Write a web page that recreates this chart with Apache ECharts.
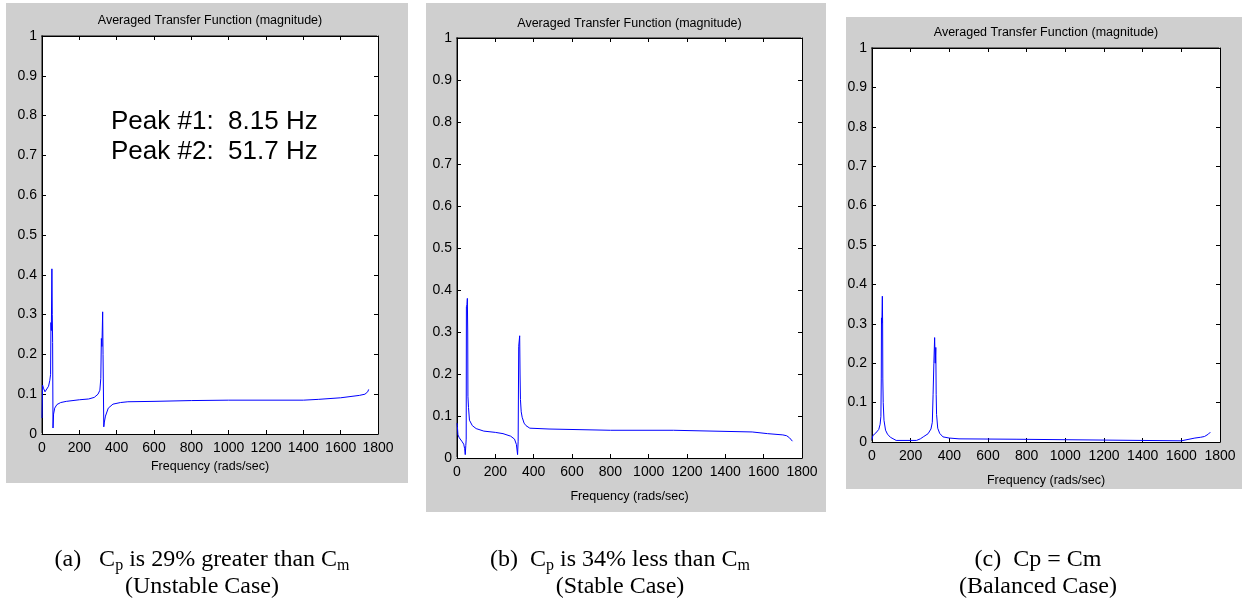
<!DOCTYPE html>
<html>
<head>
<meta charset="utf-8">
<title>Averaged Transfer Function</title>
<script src="https://cdn.jsdelivr.net/npm/echarts@6/dist/echarts.min.js"></script>
<style>html,body{margin:0;padding:0;background:#fff;}</style>
</head>
<body>
<div id="main" style="width:1243px;height:600px;"></div>
<script>
// values: frequency (rads/sec) and magnitude
var freqA = [0, 3, 8, 16, 25, 35, 42, 46, 48, 50, 53, 55, 57, 59, 62, 68, 80, 100, 130, 200, 250, 280, 300, 310, 315, 318, 321, 325, 327, 329, 331, 334, 340, 355, 380, 420, 460, 600, 800, 1000, 1200, 1400, 1480, 1600, 1700, 1730, 1745, 1750];
var magA  = [0.04, 0.123, 0.115, 0.106, 0.11, 0.12, 0.135, 0.15, 0.28, 0.26, 0.415, 0.3, 0.23, 0.015, 0.05, 0.065, 0.074, 0.079, 0.082, 0.086, 0.088, 0.092, 0.1, 0.11, 0.14, 0.24, 0.22, 0.307, 0.2, 0.2, 0.018, 0.03, 0.045, 0.065, 0.075, 0.079, 0.081, 0.082, 0.084, 0.085, 0.085, 0.085, 0.087, 0.091, 0.097, 0.1, 0.106, 0.112];

var freqB = [0, 2, 5, 12, 25, 35, 40, 43, 46, 48, 49, 52, 54, 56, 57, 60, 65, 80, 100, 140, 200, 240, 280, 300, 310, 316, 319, 322, 325, 327, 329, 331, 335, 340, 350, 360, 380, 480, 490, 800, 1130, 1140, 1540, 1550, 1620, 1630, 1700, 1720, 1735, 1750];
var magB  = [0.083, 0.075, 0.055, 0.048, 0.04, 0.033, 0.022, 0.008, 0.03, 0.045, 0.36, 0.365, 0.38, 0.3, 0.147, 0.12, 0.09, 0.077, 0.07, 0.064, 0.061, 0.058, 0.052, 0.045, 0.032, 0.008, 0.04, 0.266, 0.27, 0.291, 0.2, 0.139, 0.11, 0.097, 0.083, 0.077, 0.071, 0.069, 0.066, 0.066, 0.066, 0.063, 0.062, 0.059, 0.058, 0.056, 0.055, 0.053, 0.048, 0.04];

var freqC = [0, 4, 20, 35, 42, 46, 48, 49, 51, 53.5, 55, 56, 58, 62, 70, 80, 95, 125, 230, 250, 265, 290, 305, 312, 316, 320, 324, 327, 330, 332, 334, 340, 350, 367, 400, 450, 745, 750, 1600, 1610, 1670, 1700, 1720, 1740, 1750];
var magC  = [0.006, 0.016, 0.023, 0.032, 0.045, 0.065, 0.16, 0.315, 0.3, 0.37, 0.3, 0.16, 0.1, 0.055, 0.03, 0.02, 0.012, 0.004, 0.004, 0.008, 0.013, 0.021, 0.033, 0.05, 0.12, 0.2, 0.265, 0.2, 0.24, 0.12, 0.07, 0.035, 0.022, 0.013, 0.01, 0.008, 0.007, 0.003, 0.003, 0.006, 0.01, 0.012, 0.014, 0.02, 0.025];

var xMin = 0, xMax = 1800, xStep = 200;
var yMin = 0, yMax = 1, yStep = 0.1;

var plotTitle = 'Averaged Transfer Function (magnitude)';
var xLabel = 'Frequency (rads/sec)';
var peakText = ['Peak #1:  8.15 Hz', 'Peak #2:  51.7 Hz'];
var captionTop = ['(a)   C{s|p} is 29% greater than C{s|m}', '(b)  C{s|p} is 34% less than C{s|m}', '(c)  Cp = Cm'];
var captionBottom = ['(Unstable Case)', '(Stable Case)', '(Balanced Case)'];

var chart = echarts.init(document.getElementById('main'));

// layout of each MATLAB window: gray frame, plot box, title / label spots
var panels = [
  { bg: [6, 3, 402, 480],   grid: [42, 36, 336, 398],  titleY: 21, nameGap: 25, capX: 202 },
  { bg: [426, 3, 400, 509], grid: [457, 38, 345, 420], titleY: 24, nameGap: 32, capX: 620 },
  { bg: [846, 17, 396, 472], grid: [872, 48, 348, 394], titleY: 33, nameGap: 32, capX: 1038 }
];
var seriesData = [[freqA, magA], [freqB, magB], [freqC, magC]];

var tickFont = 'Liberation Sans, Arial, sans-serif';
var labelFont = 'Liberation Sans, Arial, sans-serif';
var serif = 'Liberation Serif, Times New Roman, serif';

var grids = [], xAxes = [], yAxes = [], series = [], graphics = [];

panels.forEach(function (p, i) {
  grids.push({
    left: p.grid[0], top: p.grid[1], width: p.grid[2], height: p.grid[3],
    show: true, backgroundColor: '#ffffff', borderWidth: 0,
    // the little 3D edge on the top/left of the MATLAB axes box
    shadowColor: '#707070', shadowBlur: 0, shadowOffsetX: -1, shadowOffsetY: -1
  });
  var tick = { show: true, inside: true, length: 4, lineStyle: { color: '#000', width: 1 } };
  var line = { show: true, onZero: false, lineStyle: { color: '#000', width: 1 } };
  xAxes.push({
    type: 'value', gridIndex: i, position: 'bottom', min: xMin, max: xMax, interval: xStep,
    axisLine: line, axisTick: tick, splitLine: { show: false },
    axisLabel: { color: '#000', fontSize: 14, fontFamily: tickFont, margin: 7,
                 showMinLabel: true, showMaxLabel: true, hideOverlap: false,
                 formatter: function (v) { return String(v); } },
    name: xLabel, nameLocation: 'middle', nameGap: p.nameGap,
    nameTextStyle: { color: '#000', fontSize: 12.5, fontFamily: labelFont }
  });
  xAxes.push({
    type: 'value', gridIndex: i, position: 'top', min: xMin, max: xMax, interval: xStep,
    axisLine: line, axisTick: tick, splitLine: { show: false }, axisLabel: { show: false }
  });
  yAxes.push({
    type: 'value', gridIndex: i, position: 'left', min: yMin, max: yMax, interval: yStep,
    axisLine: line, axisTick: tick, splitLine: { show: false },
    axisLabel: { color: '#000', fontSize: 14, fontFamily: tickFont, margin: 5,
                 formatter: function (v) { return String(+v.toFixed(1)); } }
  });
  yAxes.push({
    type: 'value', gridIndex: i, position: 'right', min: yMin, max: yMax, interval: yStep,
    axisLine: line, axisTick: tick, splitLine: { show: false }, axisLabel: { show: false }
  });
  var fx = seriesData[i][0], fy = seriesData[i][1];
  series.push({
    type: 'line', xAxisIndex: 2 * i, yAxisIndex: 2 * i,
    data: fx.map(function (f, k) { return [f, fy[k]]; }),
    showSymbol: false, symbol: 'none',
    lineStyle: { color: '#0000ff', width: 1 },
    animation: false
  });

  graphics.push({
    type: 'rect', z: -10,
    shape: { x: p.bg[0], y: p.bg[1], width: p.bg[2], height: p.bg[3] },
    style: { fill: '#cfcfcf' }
  });
  graphics.push({
    type: 'text', x: p.grid[0] + p.grid[2] / 2, y: p.titleY,
    style: { text: plotTitle, font: '12.5px ' + labelFont, fill: '#000',
             textAlign: 'center', textVerticalAlign: 'middle', align: 'center', verticalAlign: 'middle' }
  });
  graphics.push({
    type: 'text', x: p.capX, y: 560,
    style: {
      text: captionTop[i], font: '24px ' + serif, fill: '#000',
      textAlign: 'center', textVerticalAlign: 'middle', align: 'center', verticalAlign: 'middle',
      rich: { s: { fontSize: 16, fontFamily: serif, padding: [12, 0, 0, 0] } }
    }
  });
  graphics.push({
    type: 'text', x: p.capX, y: 587,
    style: {
      text: captionBottom[i], font: '24px ' + serif, fill: '#000',
      textAlign: 'center', textVerticalAlign: 'middle', align: 'center', verticalAlign: 'middle'
    }
  });
});

// annotation inside plot (a)
peakText.forEach(function (t, k) {
  graphics.push({
    type: 'text', x: 111, y: 122 + 30 * k,
    style: { text: t, font: '26px ' + labelFont, fill: '#000',
             textAlign: 'left', textVerticalAlign: 'middle', align: 'left', verticalAlign: 'middle' }
  });
});

chart.setOption({
  animation: false,
  grid: grids,
  xAxis: xAxes,
  yAxis: yAxes,
  series: series,
  graphic: graphics
});
</script>
</body>
</html>
